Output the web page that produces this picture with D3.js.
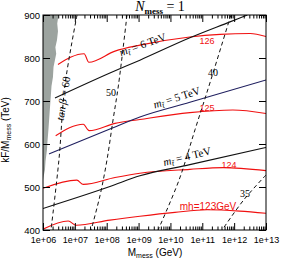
<!DOCTYPE html>
<html>
<head>
<meta charset="utf-8">
<script src="https://cdn.jsdelivr.net/npm/d3@7"></script>
<style>
  body { margin: 0; background: #fff; }
  text { font-family: "Liberation Sans", Arial, sans-serif; }
  .tex { font-family: "Liberation Serif", "Times New Roman", serif; }
</style>
</head>
<body>
<svg></svg>
<script>
// tick labels
let xTicks = [1e6, 1e7, 1e8, 1e9, 1e10, 1e11, 1e12, 1e13];
let yTicks = [400, 500, 600, 700, 800, 900];

// higgs mass contours (M_mess in GeV, kF/M_mess in TeV)
let mh126 = [[2.95e6, 785], [1.95e7, 810], [2.75e7, 790], [1.82e8, 816], [1.1e9, 830], [4.07e10, 849], [3.63e11, 855], [3.16e12, 857], [1e13, 850]];
let mh125 = [[2.5e6, 619], [1.84e7, 646], [2.8e7, 631], [1.82e8, 648], [1.1e9, 657], [4.07e10, 673], [9.1e11, 679], [1e13, 671]];
let mh124 = [[1e6, 497], [1.15e7, 516], [1.84e7, 506], [1.82e8, 522], [1.1e9, 532], [4.07e10, 541], [4.47e11, 545], [1e13, 538]];
let mh123 = [[1e6, 402], [6.2e6, 421], [1.09e7, 411], [1.26e8, 423], [1.1e9, 432], [1.38e10, 441], [1.41e11, 447], [1.5e12, 444], [1e13, 439]];

// stop mass contours
let mt6 = [[2.38e6, 707], [1.26e8, 765], [1.1e9, 795], [4.07e10, 847], [7.4e11, 884], [2.6e12, 900]];
let mt5 = [[1.55e6, 577], [1.26e8, 635], [1.1e9, 663], [4.07e10, 697], [1e13, 749]];
let mt4 = [[1e6, 450], [1.26e8, 501], [1.1e9, 526], [4.07e10, 552], [1e13, 592]];

// tan beta contours
let tb60 = [[1.17e7, 900], [4.9e6, 737], [3.16e6, 563], [1.78e6, 400]];
let tb50 = [[4.33e8, 900], [2.34e8, 737], [1.58e8, 656], [1.02e8, 563], [6.2e7, 481], [3.24e7, 400]];
let tb40 = [[7.9e11, 900], [1.86e11, 749], [5.9e10, 633], [1.86e10, 516], [4.1e9, 400]];
let tb35 = [[1e13, 528], [2e12, 470], [4.2e11, 400]];

// excluded region
let excluded = [[1e6, 900], [3.06e6, 900], [2.8e6, 880], [2.95e6, 862], [2.75e6, 842], [2.45e6, 825], [2.6e6, 810], [2.14e6, 779],
                [2.05e6, 755], [1.85e6, 735], [1.72e6, 702], [1.62e6, 675], [1.48e6, 633], [1.38e6, 605], [1.33e6, 586],
                [1.2e6, 560], [1.15e6, 540], [1.05e6, 525], [1e6, 516]];

let w = 281;
let h = 263;
let padL = 43, padR = 266, padT = 15, padB = 230;

let svg = d3.select('svg').attr('width', w).attr('height', h);

let xSc = d3.scaleLog().domain([1e6, 1e13]).range([padL, padR]);
let ySc = d3.scaleLinear().domain([400, 900]).range([padB, padT]);

svg.append('clipPath').attr('id', 'clip')
   .append('rect').attr('x', padL).attr('y', padT).attr('width', padR - padL).attr('height', padB - padT);

let plot = svg.append('g').attr('clip-path', 'url(#clip)');

let line = d3.line().x(d => xSc(d[0])).y(d => ySc(d[1]));
let smoothX = d3.line().x(d => xSc(d[0])).y(d => ySc(d[1])).curve(d3.curveMonotoneX);
let smooth = d3.line().x(d => xSc(d[0])).y(d => ySc(d[1])).curve(d3.curveCatmullRom);

plot.append('path')
    .datum(excluded)
    .attr('d', line)
    .attr('fill', '#9ca39f');

[mh126, mh125, mh124, mh123].forEach(c => {
  plot.append('path').datum(c).attr('d', smoothX)
      .attr('fill', 'none').attr('stroke', '#f01010').attr('stroke-width', 1.1);
});

plot.append('path').datum(mt6).attr('d', smoothX).attr('fill', 'none').attr('stroke', '#111').attr('stroke-width', 1.1);
plot.append('path').datum(mt5).attr('d', smoothX).attr('fill', 'none').attr('stroke', '#1f1f5f').attr('stroke-width', 1.1);
plot.append('path').datum(mt4).attr('d', smoothX).attr('fill', 'none').attr('stroke', '#111').attr('stroke-width', 1.1);

[tb60, tb50, tb40, tb35].forEach(c => {
  plot.append('path').datum(c).attr('d', smooth)
      .attr('fill', 'none').attr('stroke', '#111').attr('stroke-width', 1)
      .attr('stroke-dasharray', '4,3');
});

// axes, ticks point inwards
let minorX = xSc.ticks().filter(t => xTicks.indexOf(t) < 0);

let noDomain = g => g.select('.domain').remove();

svg.append('g').attr('transform', 'translate(0,' + padB + ')')
   .call(d3.axisBottom(xSc).tickValues(xTicks).tickSizeInner(-7).tickSizeOuter(0).tickPadding(7)
         .tickFormat(d => '1e+' + d3.format('02d')(Math.round(Math.log10(d)))))
   .call(noDomain)
   .call(g => g.selectAll('text').attr('font-size', 9).attr('fill', '#000').attr('font-family', '"Liberation Sans", Arial, sans-serif'));
svg.append('g').attr('transform', 'translate(0,' + padB + ')')
   .call(d3.axisBottom(xSc).tickValues(minorX).tickSizeInner(-3.5).tickSizeOuter(0).tickFormat(''))
   .call(noDomain);
svg.append('g').attr('transform', 'translate(0,' + padT + ')')
   .call(d3.axisTop(xSc).tickValues(xTicks).tickSizeInner(-7).tickSizeOuter(0).tickFormat(''))
   .call(noDomain);
svg.append('g').attr('transform', 'translate(0,' + padT + ')')
   .call(d3.axisTop(xSc).tickValues(minorX).tickSizeInner(-3.5).tickSizeOuter(0).tickFormat(''))
   .call(noDomain);

svg.append('g').attr('transform', 'translate(' + padL + ',0)')
   .call(d3.axisLeft(ySc).tickValues(yTicks).tickSizeInner(-7).tickSizeOuter(0).tickPadding(3))
   .call(noDomain)
   .call(g => g.selectAll('text').attr('font-size', 9.5).attr('fill', '#000').attr('font-family', '"Liberation Sans", Arial, sans-serif'));
svg.append('g').attr('transform', 'translate(' + padR + ',0)')
   .call(d3.axisRight(ySc).tickValues(yTicks).tickSizeInner(-7).tickSizeOuter(0).tickFormat(''))
   .call(noDomain);

svg.selectAll('.tick line').attr('stroke', '#000');

svg.append('rect')
   .attr('x', padL).attr('y', padT).attr('width', padR - padL).attr('height', padB - padT)
   .attr('fill', 'none').attr('stroke', '#000').attr('stroke-width', 1);

// axis titles
let xl = svg.append('text').attr('x', 155).attr('y', 256).attr('text-anchor', 'middle').attr('font-size', 10);
xl.append('tspan').text('M');
xl.append('tspan').attr('dy', 2).attr('font-size', 7).text('mess');
xl.append('tspan').attr('dy', -2).text(' (GeV)');

let yl = svg.append('text').attr('transform', 'translate(9,130) rotate(-90)').attr('text-anchor', 'middle').attr('font-size', 10);
yl.append('tspan').text('kF/M');
yl.append('tspan').attr('dy', 2).attr('font-size', 7).text('mess');
yl.append('tspan').attr('dy', -2).text(' (TeV)');

// title
let tt = svg.append('text').attr('class', 'tex').attr('x', 160).attr('y', 11).attr('text-anchor', 'middle').attr('font-size', 14);
tt.append('tspan').attr('font-style', 'italic').text('N');
tt.append('tspan').attr('dy', 2.5).attr('font-size', 9).attr('font-weight', 'bold').text('mess');
tt.append('tspan').attr('dy', -2.5).text(' = 1');

// contour labels
let stopLabel = (txt, x, y, a) => {
  let t = svg.append('text').attr('class', 'tex').attr('font-size', 11).attr('text-anchor', 'middle')
             .attr('transform', 'translate(' + x + ',' + y + ') rotate(' + a + ')');
  t.append('tspan').attr('font-style', 'italic').text('m');
  t.append('tspan').attr('dy', 2).attr('font-size', 8).attr('font-style', 'italic').text('t\u0303');
  t.append('tspan').attr('dy', -2).text(' = ' + txt + ' TeV');
};
stopLabel('6', 144, 48, -20);
stopLabel('5', 178, 101, -18);
stopLabel('4', 188, 160, -14);

let tan = svg.append('text').attr('class', 'tex').attr('font-size', 11).attr('text-anchor', 'middle')
             .attr('transform', 'translate(67,99) rotate(-81)');
tan.append('tspan').attr('font-style', 'italic').text('tan\u2009\u03b2');
tan.append('tspan').text(' = 60');

[['50', 111, 96], ['40', 213, 76], ['35', 245, 197]].forEach(d => {
  svg.append('text').attr('class', 'tex').attr('x', d[1]).attr('y', d[2])
     .attr('text-anchor', 'middle').attr('font-size', 10).text(d[0]);
});

[['126', 207, 44, 9], ['125', 207, 111, 9], ['124', 229, 168, 9], ['mh=123GeV', 208, 210, 10]].forEach(d => {
  svg.append('text').attr('x', d[1]).attr('y', d[2]).attr('text-anchor', 'middle')
     .attr('font-size', d[3]).attr('fill', '#f01010').text(d[0]);
});
</script>
</body>
</html>
